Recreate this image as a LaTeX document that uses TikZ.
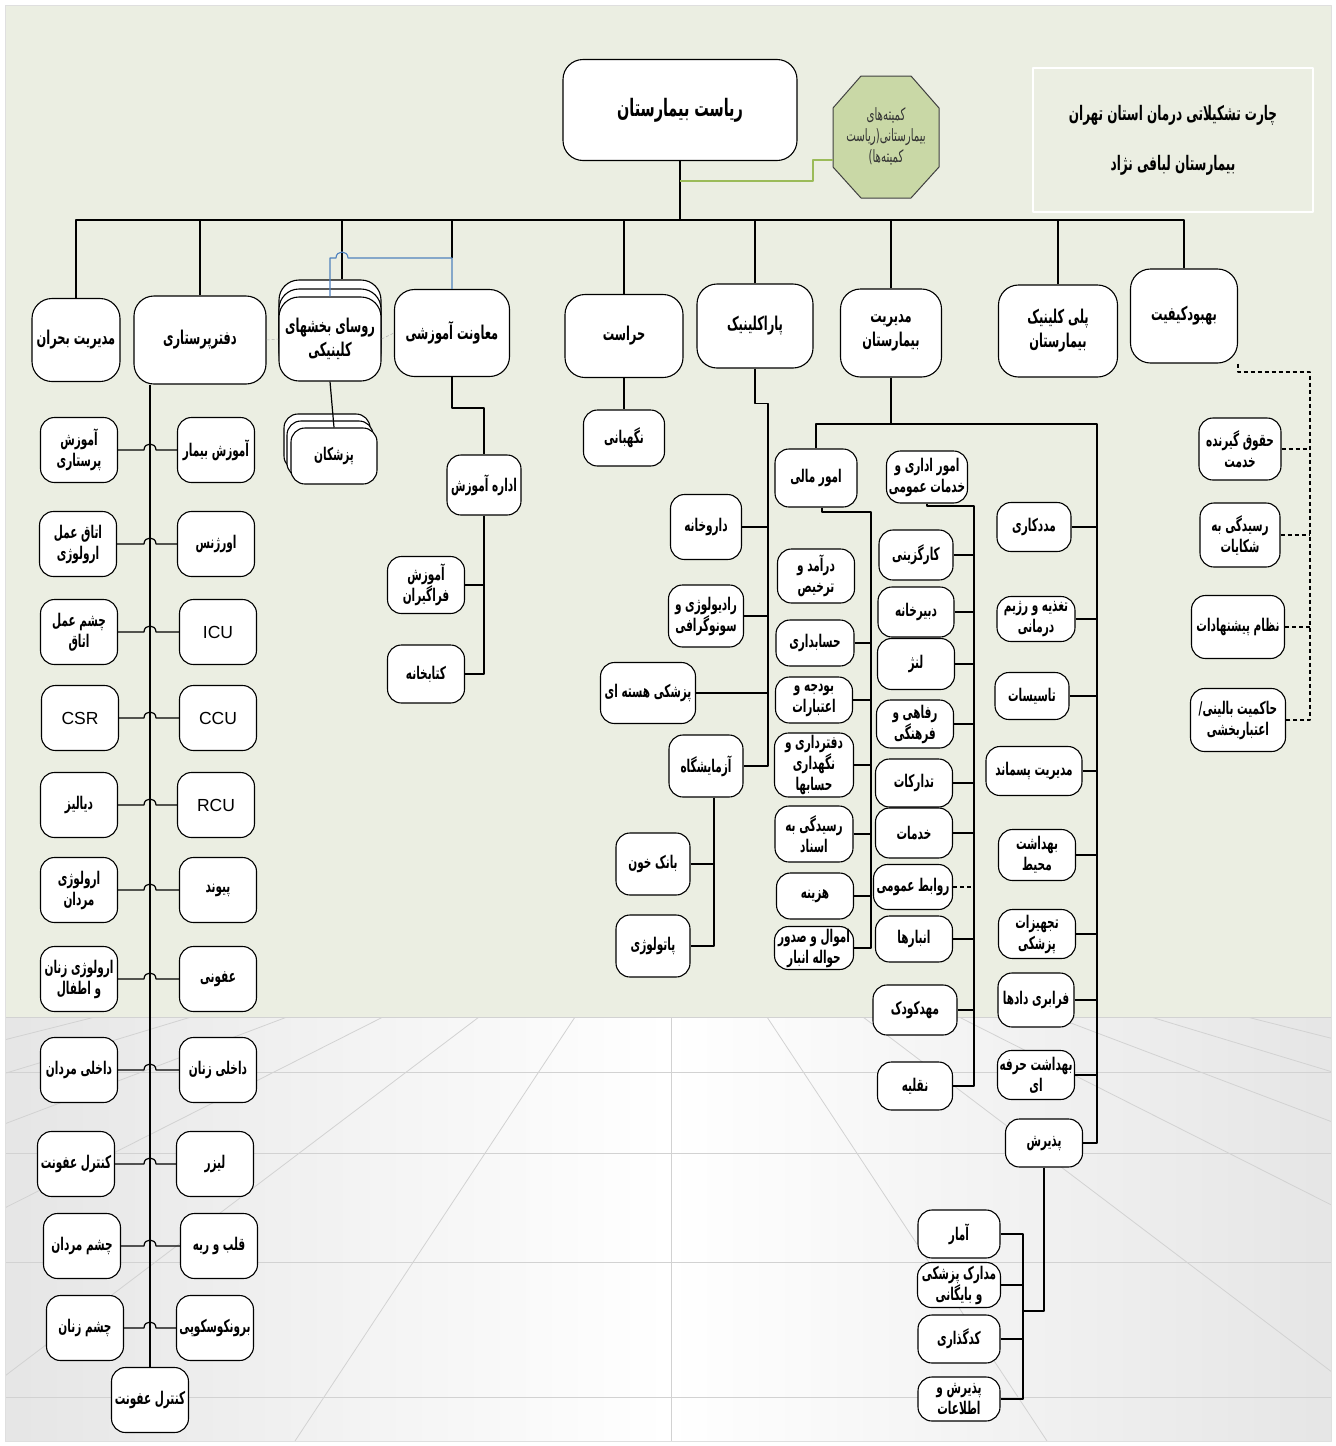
\documentclass[tikz,border=0pt]{standalone}
\usepackage{fontspec}
\usetikzlibrary{calc}
\TeXXeTstate=1
\newfontfamily\farsi[Script=Arabic,FakeStretch=0.6]{DejaVu Sans}
\newfontfamily\lat{Liberation Sans}
\newcommand{\fa}[1]{\beginR #1\endR}
\definecolor{zamine}{HTML}{EBEEE2}
\definecolor{okt}{HTML}{C9D8A6}
\definecolor{sabzkhat}{HTML}{9BBB59}
\definecolor{abi}{HTML}{4F81BD}

\begin{document}
\begin{tikzpicture}[x=1pt, y=-1pt, line join=round,
    kadr/.style={draw, fill=white, rounded corners=14pt, line width=1.1pt, align=center,
                 inner sep=2pt, minimum width=77pt, minimum height=62pt,
                 font=\farsi\bfseries\fontsize{17.5}{21}\selectfont},
    sar/.style={kadr, rounded corners=20pt, font=\farsi\bfseries\fontsize{19}{24}\selectfont},
    khat/.style={line width=1.2pt},
    naghte/.style={khat, dashed, dash pattern=on 4pt off 3pt},
    kaf/.style={gray!35, line width=0.8pt}]
  \useasboundingbox (0,0) rectangle (1336,1446);

  % zamine va kaf
  \fill[zamine] (5,5) rectangle (1331,1017);
  \shade[left color=gray!20, right color=gray!20, middle color=white] (5,1017) rectangle (1331,1441);
  \begin{scope}
    \clip (5,1017) rectangle (1331,1441);
    \foreach \k in {-8,...,8} \draw[kaf] ({671+\k*96},1017) -- ({671+\k*376},1441);
    \foreach \yy in {1017,1072,1153,1262,1397} \draw[kaf] (5,\yy) -- (1331,\yy);
  \end{scope}
  \draw[gray!25] (5,5) rectangle (1331,1441);

  % onvan
  \node[draw=white, line width=1.5pt, minimum width=280pt, minimum height=144pt, align=center,
        font=\farsi\bfseries\fontsize{20}{24}\selectfont] (onvan) at (1173,140)
        {\fa{چارت تشکیلاتی درمان استان تهران}\\[26pt]\fa{بیمارستان لبافی نژاد}};

  % ryasat va komite
  \node[sar, minimum width=234pt, minimum height=101pt, font=\farsi\bfseries\fontsize{24}{28}\selectfont] (ryasat) at (680,110) {\fa{ریاست بیمارستان}};
  \draw[fill=okt, draw=black!75, line width=1pt] (861,76) -- (911,76) -- (939,108) -- (939,167) -- (911,198) -- (861,198) -- (833,167) -- (833,108) -- cycle;
  \node[align=center, font=\farsi\fontsize{17}{21}\selectfont, text=black!80] (komite) at (886,136)
        {\fa{کمیته‌های}\\\fa{بیمارستانی(ریاست}\\\fa{کمیته‌ها)}};
  \coordinate (kw) at (833,160);
  \coordinate (sg) at (680,181);

  % sath aval
  \node[sar, minimum width=88pt, minimum height=83pt] (bohran) at (76,340) {\fa{مدیریت بحران}};
  \node[sar, minimum width=132pt, minimum height=88pt] (dafter) at (200,340) {\fa{دفترپرستاری}};
  \node[sar, minimum width=102pt, minimum height=84pt] (rosaC) at (330,322) {};
  \node[sar, minimum width=102pt, minimum height=84pt] (rosaB) at (330,331) {};
  \node[sar, minimum width=102pt, minimum height=84pt] (rosa) at (330,339) {\fa{روسای بخشهای}\\\fa{کلینیکی}};
  \node[sar, minimum width=115pt, minimum height=87pt] (mavenat) at (452,333) {\fa{معاونت آموزشی}};
  \node[sar, minimum width=118pt, minimum height=83pt] (herasat) at (624,336) {\fa{حراست}};
  \node[sar, minimum width=116pt, minimum height=84pt] (para) at (755,326) {\fa{پاراکلینیک}};
  \node[sar, minimum width=101pt, minimum height=88pt] (modir) at (891,333) {\fa{مدیریت}\\\fa{بیمارستان}};
  \node[sar, minimum width=119pt, minimum height=92pt] (poli) at (1058,331) {\fa{پلی کلینیک}\\\fa{بیمارستان}};
  \node[sar, minimum width=107pt, minimum height=94pt] (behbud) at (1184,316) {\fa{بهبودکیفیت}};

  \coordinate (bus) at (680,220);
  \coordinate (ab) at (452,258);
  \draw[khat] (ryasat.south) -- (bus);
  \draw[sabzkhat, line width=1.3pt] (sg) -| ([xshift=-20pt]kw) -- (kw);
  \draw[khat] (bohran.north) -- (bohran |- bus) -- (behbud |- bus) -- (behbud.north);
  \foreach \n in {dafter, herasat, para, modir, poli}
    \draw[khat] (\n.north) -- (\n |- bus);
  \draw[khat] ([xshift=12pt]rosaC.north) -- ([xshift=12pt]rosaC.north |- bus);
  \draw[khat] (mavenat.north |- bus) -- (ab);
  \draw[abi, line width=1.1pt] (rosa.north) -- (rosa.north |- ab) -- (336,258) .. controls (336,250) and (348,250) .. (348,258) -- (ab) -- (mavenat.north);
  \draw[gray!60, densely dashed, line width=0.5pt] (dafter.east) -- (rosa.west);
  \draw[gray!60, densely dashed, line width=0.5pt] (rosa.east) -- (mavenat.west);

  % dafter parastari
  \node[kadr, minimum height=65pt] (kontrol) at (150,1400) {\fa{کنترل عفونت}};
  \draw[khat] (dafter.south -| kontrol.north) -- (kontrol.north);
  \foreach \i/\y/\xl/\xr/\tl/\tr in {
      1/450/79/216/{\fa{آموزش}\\\fa{پرستاری}}/{\fa{آموزش بیمار}},
      2/544/78/216/{\fa{اتاق عمل}\\\fa{ارولوژی}}/{\fa{اورژنس}},
      3/632/79/218/{\fa{چشم عمل}\\\fa{اتاق}}/{\lat\mdseries ICU},
      4/718/80/218/{\lat\mdseries CSR}/{\lat\mdseries CCU},
      5/805/79/216/{\fa{دیالیز}}/{\lat\mdseries RCU},
      6/890/79/218/{\fa{ارولوژی}\\\fa{مردان}}/{\fa{پیوند}},
      7/979/79/218/{\fa{ارولوژی زنان}\\\fa{و اطفال}}/{\fa{عفونی}},
      8/1070/79/218/{\fa{داخلی مردان}}/{\fa{داخلی زنان}},
      9/1164/76/215/{\fa{کنترل عفونت}}/{\fa{لیزر}},
      10/1246/82/219/{\fa{چشم مردان}}/{\fa{قلب و ریه}},
      11/1328/85/215/{\fa{چشم زنان}}/{\fa{برونکوسکوپی}}} {
    \node[kadr, minimum height=65pt] (chp\i) at (\xl,\y) {\tl};
    \node[kadr, minimum height=65pt] (rst\i) at (\xr,\y) {\tr};
    \draw[khat] (chp\i.east) -- (144,\y) .. controls (144,\y-8) and (156,\y-8) .. (156,\y) -- (rst\i.west);
  }

  % pezeshkan
  \node[kadr, minimum width=86pt, minimum height=56pt] (pezC) at (327,442) {};
  \node[kadr, minimum width=86pt, minimum height=56pt] (pezB) at (330,449) {};
  \node[kadr, minimum width=86pt, minimum height=56pt] (pezeshk) at (334,456) {\fa{پزشکان}};
  \draw[khat] (rosa.south) -- (pezeshk.north);

  % amoozesh
  \node[kadr, minimum width=74pt, minimum height=60pt] (edare) at (484,485) {\fa{اداره آموزش}};
  \node[kadr, minimum height=57pt] (faragir) at (426,585) {\fa{آموزش}\\\fa{فراگیران}};
  \node[kadr, minimum height=58pt] (ketab) at (426,674) {\fa{کتابخانه}};
  \draw[khat] (mavenat.south) -- ++(0,31) -| (edare.north);
  \draw[khat] (edare.south) |- (ketab.east);
  \draw[khat] (faragir.east) -- (faragir -| edare.south);

  % herasat
  \node[kadr, minimum width=81pt, minimum height=56pt] (negahban) at (624,438) {\fa{نگهبانی}};
  \draw[khat] (herasat) -- (negahban);

  % paraklinik
  \node[kadr, minimum width=71pt, minimum height=65pt] (daru) at (706,527) {\fa{داروخانه}};
  \node[kadr, minimum width=75pt, minimum height=62pt] (radio) at (706,616) {\fa{رادیولوژی و}\\\fa{سونوگرافی}};
  \node[kadr, minimum width=95pt, minimum height=61pt] (hasteh) at (648,693) {\fa{پزشکی هسته ای}};
  \node[kadr, minimum width=74pt, minimum height=62pt] (azma) at (706,766) {\fa{آزمایشگاه}};
  \node[kadr, minimum width=74pt, minimum height=62pt] (bank) at (653,864) {\fa{بانک خون}};
  \node[kadr, minimum width=74pt, minimum height=62pt] (pato) at (653,946) {\fa{پاتولوژی}};
  \coordinate (pv) at (768,766);
  \draw[khat] (para.south) -- ++(0,35) -| (pv) -- (azma.east);
  \foreach \n in {daru, radio, hasteh}
    \draw[khat] (\n.east) -- (\n -| pv);
  \draw[khat] ([xshift=8pt]azma.south) |- (pato.east);
  \draw[khat] (bank.east) -- +(24,0);

  % modiriat bimarestan
  \node[kadr, minimum width=82pt, minimum height=58pt] (mali) at (816,478) {\fa{امور مالی}};
  \node[kadr, minimum width=77pt, minimum height=54pt] (daramad) at (816,576) {\fa{درآمد و}\\\fa{ترخیص}};
  \node[kadr, minimum width=78pt, minimum height=46pt] (hesab) at (815,643) {\fa{حسابداری}};
  \node[kadr, minimum width=77pt, minimum height=46pt] (bodje) at (814,700) {\fa{بودجه و}\\\fa{اعتبارات}};
  \node[kadr, minimum width=79pt, minimum height=64pt] (daftar) at (814,765) {\fa{دفترداری و}\\\fa{نگهداری}\\\fa{حسابها}};
  \node[kadr, minimum width=78pt, minimum height=56pt] (residegi) at (814,834) {\fa{رسیدگی به}\\\fa{اسناد}};
  \node[kadr, minimum width=77pt, minimum height=46pt] (hazine) at (815,896) {\fa{هزینه}};
  \node[kadr, minimum width=79pt, minimum height=43pt] (amval) at (814,948) {\fa{اموال و صدور}\\\fa{حواله انبار}};

  \node[kadr, minimum width=81pt, minimum height=52pt] (edari) at (927,477) {\fa{امور اداری و}\\\fa{خدمات عمومی}};
  \node[kadr, minimum width=74pt, minimum height=50pt] (kargozini) at (916,555) {\fa{کارگزینی}};
  \node[kadr, minimum width=76pt, minimum height=50pt] (dabir) at (916,612) {\fa{دبیرخانه}};
  \node[kadr, minimum width=77pt, minimum height=51pt] (lanj) at (916,664) {\fa{لنژ}};
  \node[kadr, minimum width=77pt, minimum height=48pt] (refahi) at (915,724) {\fa{رفاهی و}\\\fa{فرهنگی}};
  \node[kadr, minimum width=77pt, minimum height=48pt] (tadarokat) at (914,783) {\fa{تدارکات}};
  \node[kadr, minimum width=77pt, minimum height=50pt] (khadamat) at (914,833) {\fa{خدمات}};
  \node[kadr, minimum width=79pt, minimum height=45pt] (ravabet) at (913,887) {\fa{روابط عمومی}};
  \node[kadr, minimum width=77pt, minimum height=46pt] (anbar) at (914,939) {\fa{انبارها}};
  \node[kadr, minimum width=84pt, minimum height=50pt] (mahd) at (915,1010) {\fa{مهدکودک}};
  \node[kadr, minimum width=75pt, minimum height=48pt] (naghlie) at (915,1086) {\fa{نقلیه}};

  \node[kadr, minimum width=74pt, minimum height=49pt] (madadkari) at (1034,527) {\fa{مددکاری}};
  \node[kadr, minimum width=78pt, minimum height=45pt] (taghzie) at (1036,619) {\fa{تغذیه و رژیم}\\\fa{درمانی}};
  \node[kadr, minimum width=74pt, minimum height=47pt] (tasisat) at (1032,696) {\fa{تاسیسات}};
  \node[kadr, minimum width=96pt, minimum height=49pt] (pasmand) at (1034,771) {\fa{مدیریت پسماند}};
  \node[kadr, minimum width=77pt, minimum height=51pt] (behdasht) at (1037,855) {\fa{بهداشت}\\\fa{محیط}};
  \node[kadr, minimum width=77pt, minimum height=49pt] (tajhizat) at (1037,934) {\fa{تجهیزات}\\\fa{پزشکی}};
  \node[kadr, minimum width=76pt, minimum height=54pt] (farabari) at (1036,1000) {\fa{فرابری دادها}};
  \node[kadr, minimum width=77pt, minimum height=49pt] (herfe) at (1036,1075) {\fa{بهداشت حرفه}\\\fa{ای}};
  \node[kadr, minimum width=77pt, minimum height=48pt] (paziresh) at (1044,1143) {\fa{پذیرش}};

  \node[kadr, minimum width=82pt, minimum height=48pt] (amar) at (959,1234) {\fa{آمار}};
  \node[kadr, minimum width=83pt, minimum height=45pt] (madarek) at (959,1285) {\fa{مدارک پزشکی}\\\fa{و بایگانی}};
  \node[kadr, minimum width=82pt, minimum height=48pt] (kodgozari) at (959,1339) {\fa{کدگذاری}};
  \node[kadr, minimum width=82pt, minimum height=44pt] (pazet) at (959,1399) {\fa{پذیرش و}\\\fa{اطلاعات}};

  \coordinate (rv) at (1097,424);
  \coordinate (mv) at (871,512);
  \coordinate (ev) at (974,506);
  \coordinate (zv) at (1023,1311);
  \draw[khat] (modir.south) -- (modir.south |- rv);
  \draw[khat] (mali.north) |- (rv) -- (rv |- paziresh) -- (paziresh.east);
  \draw[khat] ([xshift=6pt]mali.south) |- (mv) -- (mv |- amval) -- (amval.east);
  \foreach \n in {hesab, bodje, daftar, residegi, hazine}
    \draw[khat] (\n.east) -- (\n -| mv);
  \draw[khat] (edari.south) |- (ev) -- (ev |- naghlie) -- (naghlie.east);
  \foreach \n in {kargozini, dabir, lanj, refahi, tadarokat, khadamat, anbar, mahd}
    \draw[khat] (\n.east) -- (\n -| ev);
  \draw[naghte] (ravabet.east) -- (ravabet -| ev);
  \foreach \n in {madadkari, taghzie, tasisat, pasmand, behdasht, tajhizat, farabari, herfe}
    \draw[khat] (\n.east) -- (\n -| rv);
  \draw[khat] (paziresh.south) |- (zv);
  \draw[khat] (amar.east) -| (zv |- pazet) -- (pazet.east);
  \foreach \n in {madarek, kodgozari}
    \draw[khat] (\n.east) -- (\n -| zv);

  % behbud keyfiat
  \node[kadr, minimum width=82pt, minimum height=62pt] (hoghoogh) at (1240,449) {\fa{حقوق گیرنده}\\\fa{خدمت}};
  \node[kadr, minimum width=80pt, minimum height=64pt] (shekayat) at (1240,535) {\fa{رسیدگی به}\\\fa{شکایات}};
  \node[kadr, minimum width=93pt, minimum height=63pt] (pishnahad) at (1238,627) {\fa{نظام پیشنهادات}};
  \node[kadr, minimum width=95pt, minimum height=63pt] (hakemiat) at (1238,720) {\fa{حاکمیت بالینی/}\\\fa{اعتباربخشی}};
  \coordinate (bv) at (1310,372);
  \draw[naghte] (behbud.south east) |- (bv) -- (bv |- hakemiat) -- (hakemiat.east);
  \foreach \n in {hoghoogh, shekayat, pishnahad}
    \draw[naghte] (\n.east) -- (\n -| bv);
\end{tikzpicture}
\end{document}
